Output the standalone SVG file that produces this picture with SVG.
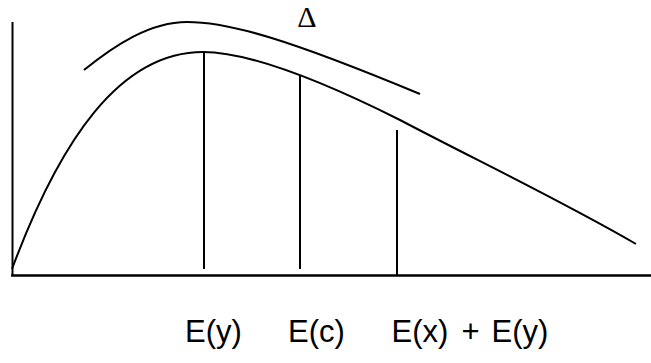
<svg xmlns="http://www.w3.org/2000/svg" width="651" height="363" viewBox="0 0 651 363">
<style>
.ln{fill:none;stroke:#000;stroke-width:2}
.lbl{font-family:"Liberation Sans",Arial,sans-serif;font-size:31px;fill:#000}
.dl{font-family:"Liberation Serif","Times New Roman",serif;font-size:30px;fill:#000}
</style>
<rect width="651" height="363" fill="#fff"/>
<g id="axes">
<line class="ln" x1="12.5" y1="22" x2="12.5" y2="276"/>
<line class="ln" x1="11" y1="275.5" x2="651" y2="275.5" style="stroke-width:2.6"/>
</g>
<g id="curves">
<path id="lower-curve" class="ln" d="M12,269 C60,140 120,52 203,52 C250,52 320,80 400,120 C480,162 560,200 636,244"/>
<path id="upper-curve" class="ln" d="M84,70 C115,45 150,22 187,22 C230,22 290,40 420,94"/>
</g>
<g id="markers">
<line class="ln" x1="204" y1="52" x2="204" y2="269"/>
<line class="ln" x1="300" y1="75" x2="300" y2="269"/>
<line class="ln" x1="397" y1="130" x2="397" y2="276"/>
</g>
<g id="labels">
<text class="dl" x="307" y="27" text-anchor="middle">Δ</text>
<text class="lbl" x="185" y="342">E(y)</text>
<text class="lbl" x="288" y="342">E(c)</text>
<text class="lbl" x="391.5" y="342">E(x)</text>
<text class="lbl" x="470.5" y="342" text-anchor="middle">+</text>
<text class="lbl" x="491.5" y="342">E(y)</text>
</g>
</svg>
